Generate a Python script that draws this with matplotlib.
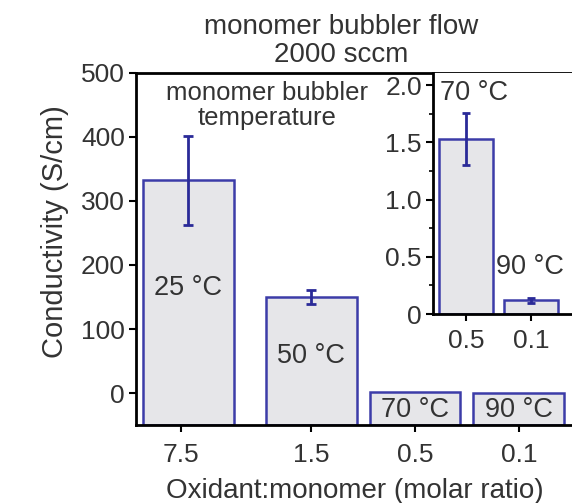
import matplotlib.pyplot as plt
import numpy as np

plt.rcParams["font.family"] = ["Liberation Sans", "DejaVu Sans"]

ratio_labels = ["7.5", "1.5", "0.5", "0.1"]
temp_labels = ["25 °C", "50 °C", "70 °C", "90 °C"]
conductivity = [332, 150, 1.53, 0.12]
cond_err = [69, 11, 0.23, 0.02]

inset_labels = ["0.5", "0.1"]
inset_vals = [1.53, 0.12]
inset_err = [0.23, 0.02]

fill = "#e6e6e9"
edge = "#3c3ca8"
err_col = "#2a2a98"
txt = "#333333"

fig = plt.figure(figsize=(5.72, 5.03), dpi=100)
ax = fig.add_axes([0.2378, 0.155, 0.7622, 0.700])

ylo = -50
x = np.array([0, 1.25, 2.25, 3.25])
xb = x + np.array([0.067, 0, 0, 0])
vals = np.array(conductivity)
ax.bar(xb, vals - ylo, bottom=ylo, width=0.875, color=fill, edgecolor=edge, linewidth=1.8)
ax.errorbar(xb[:2], vals[:2], yerr=cond_err[:2], fmt="none", ecolor=err_col,
            elinewidth=2, capsize=3.6, capthick=2)

ax.set_xlim(-0.433, 3.76)
ax.set_ylim(ylo, 500)
ax.set_yticks([0, 100, 200, 300, 400, 500])
ax.set_xticks(x)
ax.set_xticklabels(ratio_labels)
ax.tick_params(labelsize=19, width=1.5, length=5, colors="black", labelcolor=txt, pad=3)
ax.tick_params(axis="x", pad=8)
for s in ["left", "bottom", "top"]:
    ax.spines[s].set_linewidth(2)
ax.spines["right"].set_visible(False)

fig.text(55 / 572, 1 - 232 / 503, "Conductivity (S/cm)", rotation=90,
         ha="center", va="center", fontsize=21, color=txt)
fig.text(355 / 572, 1 - 491 / 503, "Oxidant:monomer (molar ratio)",
         ha="center", va="center", fontsize=20, color=txt)

ax.text(xb[0], 164, temp_labels[0], ha="center", va="center", fontsize=19.5, color=txt)
ax.text(xb[1], 58, temp_labels[1], ha="center", va="center", fontsize=19.5, color=txt)
ax.text(xb[2], -26, temp_labels[2], ha="center", va="center", fontsize=19.5, color=txt)
ax.text(xb[3], -26, temp_labels[3], ha="center", va="center", fontsize=19.5, color=txt)
ax.text(0.827, 449, "monomer bubbler\ntemperature", ha="center", va="center",
        fontsize=18.5, color=txt, linespacing=1.08)

fig.text(341 / 572, 1 - 41 / 503, "monomer bubbler flow\n2000 sccm", ha="center",
         va="center", fontsize=20, color=txt, linespacing=1.05)

ins = fig.add_axes([0.757, 0.3757, 0.243, 0.479])
xi = np.array([0, 1])
ins.bar(xi, inset_vals, width=0.83, color=fill, edgecolor=edge, linewidth=1.8)
ins.errorbar(xi, inset_vals, yerr=inset_err, fmt="none", ecolor=err_col,
             elinewidth=2, capsize=3, capthick=2)
ins.set_xlim(-0.508, 1.63)
ins.set_ylim(0, 2.105)
ins.set_yticks([0, 0.5, 1.0, 1.5, 2.0])
ins.set_yticklabels(["0", "0.5", "1.0", "1.5", "2.0"])
ins.set_yticks(np.arange(0.25, 2.1, 0.5), minor=True)
ins.set_xticks(xi)
ins.set_xticklabels(inset_labels)
ins.tick_params(labelsize=19, width=1.5, length=5, labelcolor=txt, pad=3)
ins.tick_params(which="minor", width=1.2, length=3)
ins.tick_params(axis="x", pad=6)
for s in ["left", "bottom"]:
    ins.spines[s].set_linewidth(2)
ins.spines["right"].set_visible(False)
ins.spines["top"].set_visible(False)
ins.text(-0.4, 1.93, temp_labels[2], ha="left", va="center", fontsize=19.5, color=txt)
ins.text(0.985, 0.41, temp_labels[3], ha="center", va="center", fontsize=19.5, color=txt)

fig.savefig("out.png", dpi=100)
